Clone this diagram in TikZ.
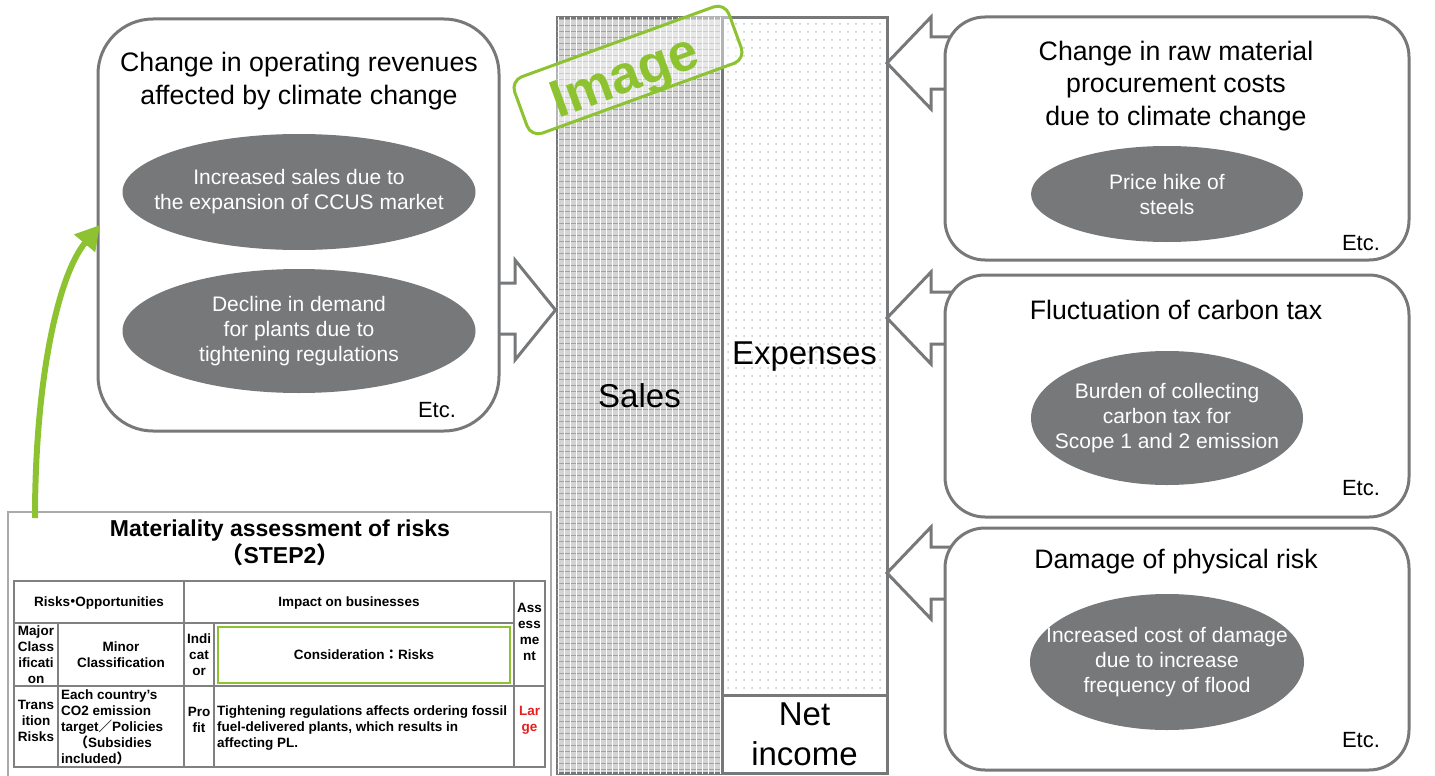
\documentclass[tikz,border=0pt]{standalone}
\usepackage{fontspec}
\setmainfont{Liberation Sans}
\newfontfamily\cjkfont{Noto Sans CJK JP}
\usetikzlibrary{shapes.geometric,patterns,patterns.meta,arrows.meta}
\definecolor{bordergray}{RGB}{118,120,122}
\definecolor{ellgray}{RGB}{118,120,122}
\definecolor{stampgreen}{RGB}{141,194,48}
\definecolor{tblline}{RGB}{128,128,128}
\definecolor{framegray}{RGB}{170,170,170}
\definecolor{salesgray}{RGB}{212,212,212}
\definecolor{largered}{RGB}{230,30,30}
\begin{document}
\begin{tikzpicture}[x=1pt,y=-1pt,
  roundbox/.style={draw=bordergray,line width=3pt,fill=white,rounded corners=40pt,inner sep=0pt},
  ell/.style={ellipse,fill=ellgray,inner sep=0pt},
  elltext/.style={text=white,align=center,inner sep=0pt,font=\fontsize{21}{25}\selectfont},
  ttl/.style={align=center,font=\fontsize{26.7}{32.5}\selectfont},
  etc/.style={font=\fontsize{22}{26}\selectfont},
  blockarrow/.style={draw=bordergray,line width=3pt,fill=white,line join=miter},
  colpart/.style={draw=bordergray,line width=3pt,inner sep=0pt,font=\fontsize{33}{40}\selectfont,align=center},
  tcell/.style={align=center,inner sep=0pt,font=\bfseries\fontsize{13.5}{16}\selectfont},
  tline/.style={draw=tblline,line width=2pt}]
\useasboundingbox (0,0) rectangle (1435,776);

% ---------- table (materiality assessment) ----------
\node[draw=framegray,line width=1.5pt,minimum width=543,minimum height=290,inner sep=0pt] (frame) at (279.5,657) {};
\node[align=center,font=\bfseries\fontsize{23}{27}\selectfont] (ttitle) at (280,543) {Materiality assessment of risks\\{\cjkfont （}STEP2{\cjkfont ）}};
\draw[tline] (14,581) rectangle (545,767);
\draw[tline] (14,623) -- (514,623);
\draw[tline] (14,686) -- (545,686);
\draw[tline] (58,623) -- (58,767);
\draw[tline] (184,581) -- (184,767);
\draw[tline] (214,623) -- (214,767);
\draw[tline] (514,581) -- (514,767);
\draw[stampgreen,line width=1.8pt] (218,627) rectangle (510,683);
\node[tcell] (h1) at (99,603) {Risks\kern-0.3em{\cjkfont ・}\kern-0.3em Opportunities};
\node[tcell] (h2) at (349,603) {Impact on businesses};
\node[tcell] (h3) at (529.5,632) {Ass\\ess\\me\\nt};
\node[tcell] (h4) at (36,655) {Major\\Class\\ificati\\on};
\node[tcell] (h5) at (121,655) {Minor\\Classification};
\node[tcell] (h6) at (199,655) {Indi\\cat\\or};
\node[tcell] (h7) at (364,655) {Consideration{\cjkfont ：}Risks};
\node[tcell] (d1) at (36,721) {Trans\\ition\\Risks};
\node[tcell,align=left,anchor=west] (d2) at (61,727) {Each country’s\\CO2 emission\\target{\cjkfont ／}Policies\\{\cjkfont 　（}Subsidies\\included{\cjkfont ）}};
\node[tcell] (d3) at (199,720) {Pro\\fit};
\node[tcell,align=left,anchor=west] (d4) at (217,728) {Tightening regulations affects ordering fossil\\fuel-delivered plants, which results in\\affecting PL.};
\node[tcell,text=largered] (d5) at (529.5,720) {Lar\\ge};

% ---------- central column ----------
\node[colpart,fill=salesgray,
  postaction={pattern={Lines[distance=6pt,angle=0,line width=1pt]},pattern color=gray!60!salesgray},
  postaction={pattern={Lines[distance=6pt,angle=90,line width=0.8pt]},pattern color=white},
  minimum width=165,minimum height=755] (sales) at (639.5,395.5) {Sales};
\node[colpart,fill=white,
  postaction={pattern={Dots[distance=8pt,radius=1pt]},pattern color=gray!45},
  minimum width=165,minimum height=677] (expenses) at (804.5,356.5) {Expenses};
\node[colpart,fill=white,minimum width=165,minimum height=78] (netinc) at (804.5,734) {Net\\income};

% ---------- block arrows ----------
\draw[blockarrow] (488,283) -- (515,283) -- (515,260) -- (sales.west |- 0,310) -- (515,360) -- (515,334) -- (488,334) -- cycle;
\foreach \ty in {63,318,573}{
  \draw[blockarrow] (962,\ty-26) -- (931,\ty-26) -- (931,\ty-46) -- (887,\ty) -- (931,\ty+46) -- (931,\ty+26) -- (962,\ty+26) -- cycle;
}

% ---------- left box ----------
\node[roundbox,rounded corners=55pt,minimum width=401,minimum height=412] (revbox) at (298.5,225) {};
\node[ttl] (revttl) at (299,81) {Change in operating revenues\\affected by climate change};
\node[ell,minimum width=353,minimum height=116] (e1) at (299,192) {};
\node[elltext] (e1t) at (e1.center) {Increased sales due to\\the expansion of CCUS market};
\node[ell,minimum width=353,minimum height=124] (e2) at (299,331) {};
\node[elltext] (e2t) at (e2.center) {Decline in demand\\for plants due to\\tightening regulations};
\node[etc] (etc1) at (437,410) {Etc.};

% ---------- right boxes ----------
\node[roundbox,minimum width=464,minimum height=243] (rawbox) at (1177,138.5) {};
\node[ttl] (rawttl) at (1176,86) {Change in raw material\\procurement costs\\due to climate change};
\node[ell,minimum width=272,minimum height=96] (e3) at (1167,194) {};
\node[elltext] (e3t) at (e3.center) {Price hike of\\steels};
\node[etc] (etc2) at (1361,243) {Etc.};

\node[roundbox,minimum width=464,minimum height=242] (taxbox) at (1177,396) {};
\node[ttl] (taxttl) at (1176,310) {Fluctuation of carbon tax};
\node[ell,minimum width=272,minimum height=134] (e4) at (1167,418) {};
\node[elltext] (e4t) at (e4.center) {Burden of collecting\\carbon tax for\\Scope 1 and 2 emission};
\node[etc] (etc3) at (1361,488) {Etc.};

\node[roundbox,minimum width=464,minimum height=242] (physbox) at (1177,649) {};
\node[ttl] (physttl) at (1176,562) {Damage of physical risk};
\node[ell,minimum width=274,minimum height=136] (e5) at (1167,662) {};
\node[elltext] (e5t) at (e5.center) {Increased cost of damage\\due to increase\\frequency of flood};
\node[etc] (etc4) at (1361,740) {Etc.};

% ---------- stamp ----------
\node[draw=stampgreen,line width=3pt,fill=white,fill opacity=0.45,
  rounded corners=12pt,minimum width=228,minimum height=60,rotate=20] (stamp) at (628,70) {};
\node[rotate=20,text=stampgreen,inner sep=0pt,font=\bfseries\fontsize{53}{53}\selectfont] (stampt) at (626,80) {Image};

% ---------- green arrow ----------
\coordinate (gstart) at (35,518);
\coordinate (gend) at (100,225);
\draw[stampgreen,line width=6pt,-{Triangle[length=24pt,width=26pt]}] (gstart) .. controls (35,380) and (58,275) .. (gend);
\end{tikzpicture}
\end{document}
